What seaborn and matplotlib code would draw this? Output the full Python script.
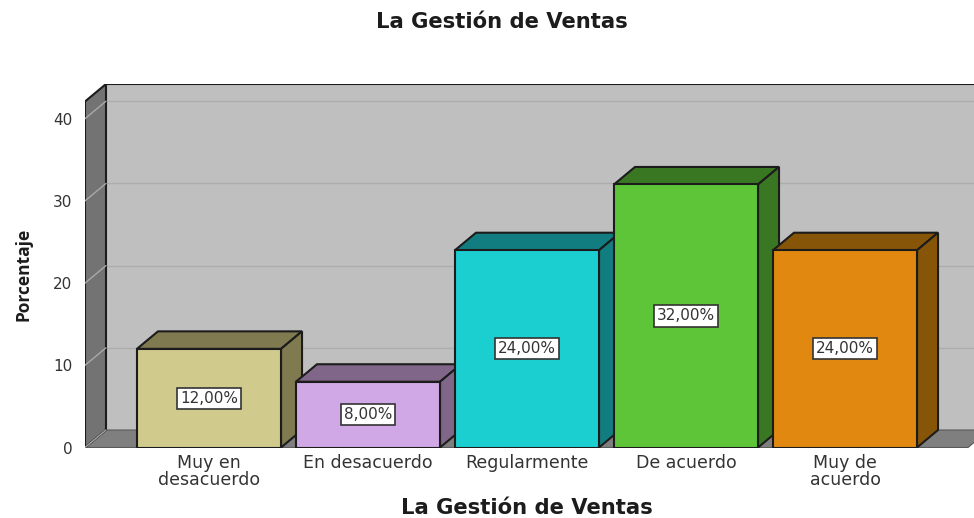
#bar chart with fake 3d look, drawn on top of a normal seaborn barplot
import numpy as np
import matplotlib
matplotlib.use("Agg")
import matplotlib.pyplot as plt
import seaborn as sns

categorias = ["Muy en desacuerdo", "En desacuerdo", "Regularmente", "De acuerdo", "Muy de acuerdo"]
etiquetas = ["Muy en\ndesacuerdo", "En desacuerdo", "Regularmente", "De acuerdo", "Muy de\nacuerdo"]
porcentajes = [12, 8, 24, 32, 24]
marcas_y = [0, 10, 20, 30, 40]

colores = ["#d0ca8d", "#d0a8e5", "#1bcfd0", "#5fc538", "#e0880f"]
colores_lado = ["#7f7a50", "#80678a", "#127d80", "#3a7722", "#875508"]

sns.set_theme(style="white")
plt.rcParams["font.family"] = ["DejaVu Sans"]

W, H = 974, 518
fig = plt.figure(figsize=(W / 100, H / 100), dpi=100)

#axes in pixels of the picture: floor front at y=447.5, back wall top at y=84
ax = fig.add_axes([85 / W, (H - 447.5) / H, (W - 85) / W, (447.5 - 84) / H])

ancho = 0.906
sns.barplot(x=categorias, y=porcentajes, hue=categorias, palette=colores, saturation=1,
            width=ancho, dodge=False, legend=False, edgecolor="#1c1c1c", linewidth=1.5, ax=ax)

#scale of the picture: 159 px per category, 8.22 px per percent
px_x = 159
px_y = 8.22
ax.set_xlim((85 - 209) / px_x, (W - 209) / px_x)
ax.set_ylim(0, (447.5 - 84) / px_y)

#depth of the 3d effect
dx = 21 / px_x
dy = 17.5 / px_y
x0 = ax.get_xlim()[0]
x1 = (968 - 209) / px_x
techo = (447.5 - 101.5) / px_y

#back wall, floor and left wall
ax.fill([x0 + dx, x1 + dx, x1 + dx, x0 + dx], [dy, dy, techo + dy, techo + dy],
        color="#bfbfbf", ec="none", zorder=1)
for m in marcas_y[1:]:
    ax.plot([x0 + dx, x1 + dx], [m + dy, m + dy], color="#adadad", lw=1, zorder=2)
ax.fill([x0, x1, x1 + dx, x0 + dx], [0, 0, dy, dy], color="#7f7f7f", ec="#5a5a5a", lw=0.8, zorder=3)
ax.fill([x0, x0 + dx, x0 + dx, x0], [0, dy, techo + dy, techo], color="#737373", ec="#1c1c1c", lw=1.5, zorder=3)
for m in marcas_y:
    ax.plot([x0, x0 + dx], [m, m + dy], color="#a9a9a9", lw=1, zorder=4)
ax.plot([x0 + dx, x1 + dx], [techo + dy, techo + dy], color="#1c1c1c", lw=1.5, zorder=4)

#top and side faces of each bar, every bar covers the one on its left
for i, v in enumerate(porcentajes):
    p = ax.patches[i]
    p.set_zorder(10 + 2 * i)
    izq = i - ancho / 2
    der = i + ancho / 2
    ax.fill([izq, der, der + dx, izq + dx], [v, v, v + dy, v + dy], color=colores_lado[i],
            ec="#1c1c1c", lw=1.5, zorder=9 + 2 * i)
    ax.fill([der, der + dx, der + dx, der], [0, dy, v + dy, v], color=colores_lado[i],
            ec="#1c1c1c", lw=1.5, zorder=9 + 2 * i)
    ax.text(i, v / 2, f"{v:.2f}".replace(".", ",") + "%", ha="center", va="center", fontsize=11,
            color="#333333", zorder=30,
            bbox=dict(boxstyle="square,pad=0.2", fc="white", ec="#333333", lw=1.2))

for s in ax.spines.values():
    s.set_visible(False)

ax.set_yticks(marcas_y)
ax.set_xticks(range(len(etiquetas)))
ax.set_xticklabels(etiquetas, fontsize=12.5, color="#333333", linespacing=0.9)
ax.tick_params(axis="x", length=0, pad=5)
ax.tick_params(axis="y", length=0, pad=9, labelsize=11, labelcolor="#333333")
ax.set_xlabel("")
ax.set_ylabel("")

fig.text(502 / W, 1 - 22 / H, "La Gestión de Ventas", ha="center", va="center", fontsize=15.2,
         fontweight="bold", color="#1c1c1c")
fig.text(527 / W, 1 - 508 / H, "La Gestión de Ventas", ha="center", va="center", fontsize=15.2,
         fontweight="bold", color="#1c1c1c")
fig.text(23 / W, 1 - 274 / H, "Porcentaje", rotation=90, ha="center", va="center", fontsize=12.5,
         fontweight="bold", family="Open Sans", color="#1c1c1c")

fig.savefig("out.png", dpi=100)
